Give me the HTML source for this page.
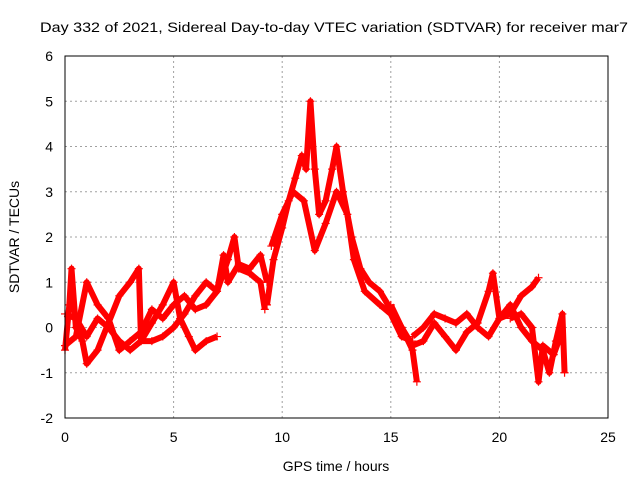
<!DOCTYPE html>
<html><head><meta charset="utf-8"><style>
body{margin:0;background:#fff;}
svg{font-family:"Liberation Sans",sans-serif;}
</style></head><body>
<svg id="chart" width="640" height="480" viewBox="0 0 640 480">
<text x="40" y="32" font-size="14" textLength="588" lengthAdjust="spacingAndGlyphs">Day 332 of 2021, Sidereal Day-to-day VTEC variation (SDTVAR) for receiver mar7</text>
<text x="336" y="471" font-size="14" text-anchor="middle">GPS time / hours</text>
<text transform="translate(19,237) rotate(-90)" font-size="14" text-anchor="middle">SDTVAR / TECUs</text>
<g id="grid"></g><g id="ticks"></g><g id="marks"></g>
<rect x="65" y="56" width="543" height="362" fill="none" stroke="#000" stroke-width="1"/>
</svg>
<script>
const xTicks=[0,5,10,15,20,25];
const yTicks=[-2,-1,0,1,2,3,4,5,6];
const seriesA=[[9.3,0.5],[9.6,1.5],[10,2.2],[10.3,2.8],[10.6,3.3],[10.9,3.8],[11.1,3.5],[11.3,5.0],[11.5,3.5],[11.7,2.5],[12,2.8],[12.3,3.5],[12.5,4.0],[12.8,3.0],[13.2,2.0],[13.6,1.3],[14,1.0],[14.5,0.8],[15,0.4],[15.5,0],[16,-0.5],[16.2,-1.2]];
const seriesB=[[9.5,1.8],[10,2.5],[10.5,3.0],[11,2.8],[11.5,1.7],[12,2.3],[12.5,3.0],[13,2.5],[13.3,1.5],[13.8,0.8],[14.5,0.5],[15,0.3],[15.5,-0.2],[16,-0.3]];
const seriesC=[[0,-0.4],[0.5,-0.2],[1,1.0],[1.5,0.5],[2,0.2],[2.5,-0.5],[3,-0.3],[3.5,-0.1],[4,0.4],[4.5,0.2],[5,0.5],[5.5,0.7],[6,0.4],[6.5,0.5],[7,0.8],[7.5,1.5],[7.8,2.0],[8,1.3],[8.5,1.2],[9,1.0],[9.2,0.4]];
const seriesD=[[0,0.3],[0.5,0.2],[1,-0.2],[1.5,0.2],[2,0],[2.5,-0.3],[3,-0.5],[3.5,-0.3],[4,0.1],[4.5,0.5],[5,1.0],[5.3,0.2],[5.7,-0.2],[6,-0.5],[6.5,-0.3],[7,-0.2]];
const seriesE=[[0,-0.5],[0.2,0.5],[0.3,1.3],[0.5,0],[0.8,-0.3],[1,-0.8],[1.5,-0.5],[2,0.1],[2.5,0.7],[3,1.0],[3.4,1.3],[3.5,-0.3],[4,-0.3],[4.5,-0.2],[5,0],[5.5,0.3],[6,0.7],[6.5,1.0],[7,0.8],[7.3,1.6],[7.5,1.0],[8,1.4],[8.5,1.3],[9,1.6],[9.3,1.0]];
const seriesF=[[15,0.5],[15.5,0],[16,-0.4],[16.5,-0.3],[17,0.1],[17.5,-0.2],[18,-0.5],[18.5,-0.1],[19,0.1],[19.5,0.8],[19.7,1.2],[20,0.2],[20.5,0.3],[21,0.7],[21.5,0.9],[21.8,1.1]];
const seriesG=[[16,-0.2],[16.5,0],[17,0.3],[17.5,0.2],[18,0.1],[18.5,0.3],[19,0],[19.5,-0.2],[20,0.2],[20.5,0.5],[21,0],[21.5,-0.3],[22,-0.5],[22.3,-1.0],[22.6,-0.3],[22.9,0.3],[23,-1.0]];
const seriesH=[[20.5,0.2],[21,0.3],[21.5,0],[21.8,-1.2],[22,-0.4],[22.5,-0.6],[22.8,-0.2]];
const allSeries=[seriesA,seriesB,seriesC,seriesD,seriesE,seriesF,seriesG,seriesH];
const NS="http://www.w3.org/2000/svg";
const X0=65,X1=608,Y0=418,Y1=56;
function sx(t){return X0+(t-0)/(25-0)*(X1-X0);}
function sy(v){return Y0-(v+2)/(6+2)*(Y0-Y1);}
function mk(tag,attrs,parent){const e=document.createElementNS(NS,tag);for(const k in attrs)e.setAttribute(k,attrs[k]);parent.appendChild(e);return e;}
const grid=document.getElementById('grid'),ticks=document.getElementById('ticks'),marks=document.getElementById('marks');
xTicks.forEach(t=>{
  const x=sx(t);
  if(t>0&&t<25){const g=mk('line',{x1:x,x2:x,y1:Y1,y2:Y0,stroke:'#a0a0a0','stroke-dasharray':'2,3'},grid);
  
  }
  const l=mk('text',{x:x,y:Y0+24,'font-size':14,'text-anchor':'middle'},ticks);l.textContent=t;
  
  
});
yTicks.forEach(v=>{
  const y=sy(v);
  if(v>-2&&v<6){const g=mk('line',{x1:X0,x2:X1,y1:y,y2:y,stroke:'#a0a0a0','stroke-dasharray':'2,3'},grid);
  
  }
  const l=mk('text',{x:X0-12,y:y+5,'font-size':14,'text-anchor':'end'},ticks);l.textContent=v;
  
  
});
allSeries.forEach((s,i)=>{
  const pts=s.map(p=>sx(p[0])+','+sy(p[1])).join(' ');
  const pl=mk('polyline',{points:pts,fill:'none',stroke:'#ff0000','stroke-width':6,'stroke-linejoin':'round'},marks);
  
  
  s.forEach(p=>{
    const x=sx(p[0]),y=sy(p[1]);
    const m=mk('path',{d:`M${x-4},${y}H${x+4}M${x},${y-4}V${y+4}`,stroke:'#ff0000','stroke-width':1.2},marks);
    
    
  });
});
</script>
</body></html>
